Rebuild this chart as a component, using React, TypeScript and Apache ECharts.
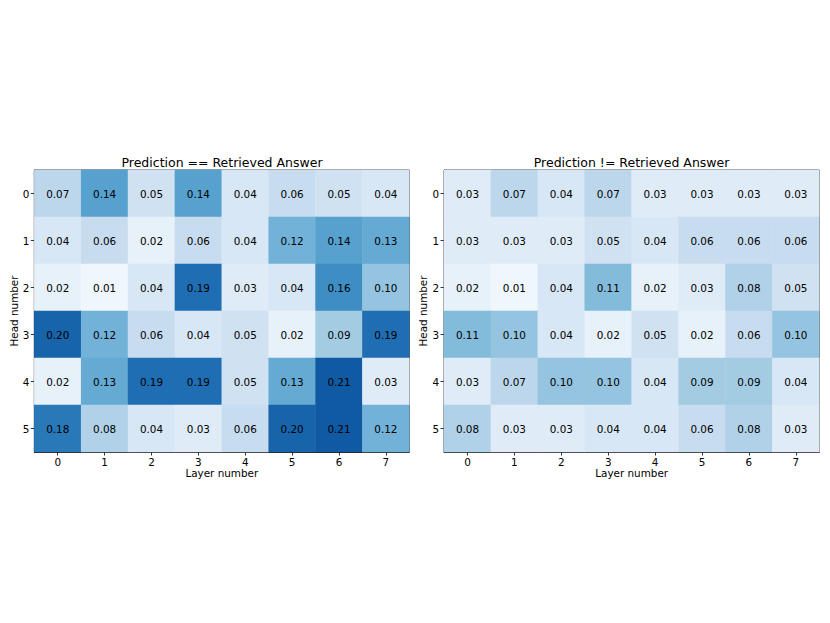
import React, { useEffect, useRef } from "react";
import * as echarts from "echarts";

const layers = ["0", "1", "2", "3", "4", "5", "6", "7"];
const heads = ["0", "1", "2", "3", "4", "5"];

const titleLeft = "Prediction == Retrieved Answer";
const titleRight = "Prediction != Retrieved Answer";

// rows = head number, columns = layer number
const valuesLeft: number[][] = [
  [0.07, 0.14, 0.05, 0.14, 0.04, 0.06, 0.05, 0.04],
  [0.04, 0.06, 0.02, 0.06, 0.04, 0.12, 0.14, 0.13],
  [0.02, 0.01, 0.04, 0.19, 0.03, 0.04, 0.16, 0.10],
  [0.20, 0.12, 0.06, 0.04, 0.05, 0.02, 0.09, 0.19],
  [0.02, 0.13, 0.19, 0.19, 0.05, 0.13, 0.21, 0.03],
  [0.18, 0.08, 0.04, 0.03, 0.06, 0.20, 0.21, 0.12],
];

const valuesRight: number[][] = [
  [0.03, 0.07, 0.04, 0.07, 0.03, 0.03, 0.03, 0.03],
  [0.03, 0.03, 0.03, 0.05, 0.04, 0.06, 0.06, 0.06],
  [0.02, 0.01, 0.04, 0.11, 0.02, 0.03, 0.08, 0.05],
  [0.11, 0.10, 0.04, 0.02, 0.05, 0.02, 0.06, 0.10],
  [0.03, 0.07, 0.10, 0.10, 0.04, 0.09, 0.09, 0.04],
  [0.08, 0.03, 0.03, 0.04, 0.04, 0.06, 0.08, 0.03],
];

const blues = [
  "#f7fbff", "#deebf7", "#c6dbef", "#9ecae1", "#6baed6",
  "#4292c6", "#2171b5", "#08519c", "#08306b",
];

const FONT = "DejaVu Sans";
const FS = 10.4;

function toTriples(m: number[][]) {
  const out: [number, number, number][] = [];
  m.forEach((row, h) => row.forEach((v, l) => out.push([l, h, v])));
  return out;
}

export default function App() {
  const ref = useRef<HTMLDivElement>(null);
  useEffect(() => {
    if (!ref.current) return;
    const chart = echarts.init(ref.current, undefined, { renderer: "svg" });
    const grids = [
      { left: 34.3, top: 170, width: 375, height: 282 },
      { left: 444, top: 170, width: 375.3, height: 282 },
    ];
    const mkX = (i: number) => ({
      type: "category",
      gridIndex: i,
      data: layers,
      position: "bottom",
      name: "Layer number",
      nameLocation: "middle",
      nameGap: 16,
      nameTextStyle: { fontFamily: FONT, fontSize: FS, color: "#000" },
      axisLine: { show: true, lineStyle: { color: "#000", width: 0.8 } },
      axisTick: { show: true, alignWithLabel: true, length: 3.5, lineStyle: { color: "#000", width: 0.8 } },
      axisLabel: { fontFamily: FONT, fontSize: FS, color: "#000", margin: 5 },
      splitLine: { show: false },
    });
    const mkY = (i: number) => ({
      type: "category",
      gridIndex: i,
      data: heads,
      inverse: true,
      name: "Head number",
      nameLocation: "middle",
      nameGap: 14,
      nameTextStyle: { fontFamily: FONT, fontSize: FS, color: "#000" },
      axisLine: { show: true, lineStyle: { color: "#000", width: 0.8 } },
      axisTick: { show: true, alignWithLabel: true, length: 3.5, lineStyle: { color: "#000", width: 0.8 } },
      axisLabel: { fontFamily: FONT, fontSize: FS, color: "#000", margin: 5 },
      splitLine: { show: false },
    });
    const mkSeries = (i: number, m: number[][]) => ({
      type: "heatmap",
      xAxisIndex: i,
      yAxisIndex: i,
      data: toTriples(m),
      label: {
        show: true,
        fontFamily: FONT,
        fontSize: FS,
        color: "#000",
        formatter: (p: any) => p.value[2].toFixed(2),
      },
      itemStyle: { borderWidth: 0 },
      emphasis: { disabled: true },
    });
    chart.setOption({
      animation: false,
      backgroundColor: "#fff",
      grid: grids.map((g) => ({
        ...g,
        show: true,
        borderColor: "#000",
        borderWidth: 0.8,
        backgroundColor: "transparent",
      })),
      xAxis: [mkX(0), mkX(1)],
      yAxis: [mkY(0), mkY(1)],
      visualMap: {
        show: false,
        min: 0,
        max: 0.25,
        dimension: 2,
        seriesIndex: [0, 1],
        inRange: { color: blues },
      },
      series: [mkSeries(0, valuesLeft), mkSeries(1, valuesRight)],
      graphic: [
        {
          type: "text",
          x: 222,
          y: 162.5,
          style: {
            text: titleLeft,
            fontFamily: FONT,
            fontSize: 12.5,
            fill: "#000",
            align: "center",
            verticalAlign: "middle",
          },
        },
        {
          type: "text",
          x: 631.6,
          y: 162.5,
          style: {
            text: titleRight,
            fontFamily: FONT,
            fontSize: 12.5,
            fill: "#000",
            align: "center",
            verticalAlign: "middle",
          },
        },
      ],
    });
    return () => chart.dispose();
  }, []);
  return (
    <div
      ref={ref}
      style={{ position: "fixed", left: 0, top: 0, width: 830, height: 623 }}
    />
  );
}
